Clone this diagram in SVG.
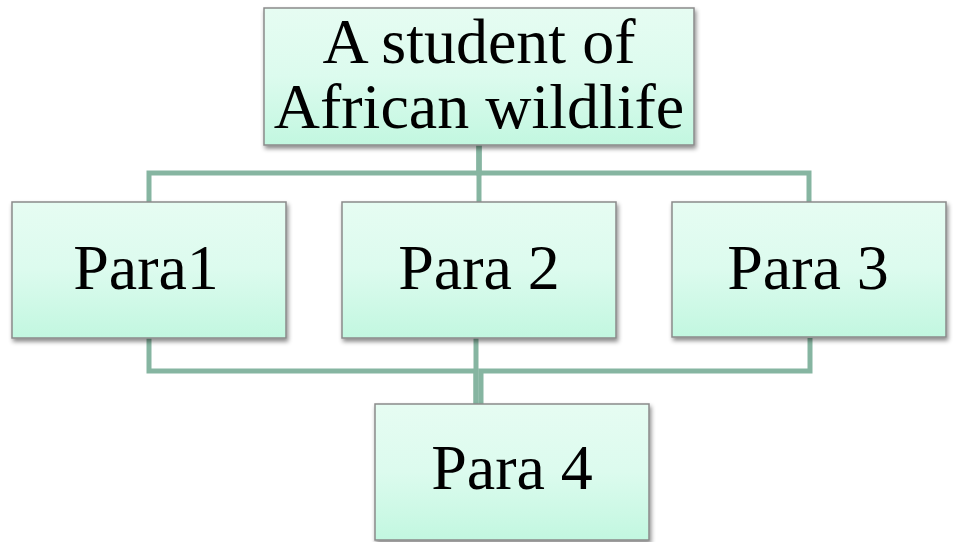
<svg xmlns="http://www.w3.org/2000/svg" width="955" height="542" viewBox="0 0 955 542">
<defs>
<linearGradient id="fill" x1="0" y1="0" x2="0" y2="1">
<stop offset="0" stop-color="#e6fcf2"/>
<stop offset="0.5" stop-color="#dcfbee"/>
<stop offset="1" stop-color="#c2f7e0"/>
</linearGradient>
<filter id="shadow" x="-10%" y="-10%" width="130%" height="130%">
<feDropShadow dx="1.5" dy="3" stdDeviation="2" flood-color="#000" flood-opacity="0.45"/>
</filter>
<style>
.box{fill:url(#fill);stroke:#8a8a8a;stroke-width:1.5;filter:url(#shadow)}
.lbl{font-family:"Liberation Serif","Times New Roman",serif;font-size:64px;fill:#000;text-anchor:middle}
.conn{fill:none;stroke:#86b5a1;stroke-width:5}
</style>
</defs>
<rect width="955" height="542" fill="#fff"/>
<g id="connectors">
<path class="conn" d="M479,145 V173 H149 V202"/>
<path class="conn" d="M479,145 V202"/>
<path class="conn" d="M479,145 V173 H809 V202"/>
<path class="conn" d="M149,338 V371 H476 V404"/>
<path class="conn" d="M476,338 V404"/>
<path class="conn" d="M810,338 V371 H481 V404"/>
</g>
<g id="top">
<rect class="box" x="264" y="8" width="430" height="137"/>
<text class="lbl" x="479" y="63">A student of</text>
<text class="lbl" x="479" y="128">African wildlife</text>
</g>
<g id="para1">
<rect class="box" x="12" y="202" width="274" height="136"/>
<text class="lbl" x="146" y="289">Para1</text>
</g>
<g id="para2">
<rect class="box" x="342" y="202" width="274" height="136"/>
<text class="lbl" x="479" y="289">Para 2</text>
</g>
<g id="para3">
<rect class="box" x="672" y="202" width="274" height="135"/>
<text class="lbl" x="808" y="289">Para 3</text>
</g>
<g id="para4">
<rect class="box" x="375" y="404" width="274" height="136"/>
<text class="lbl" x="512" y="489">Para 4</text>
</g>
</svg>
